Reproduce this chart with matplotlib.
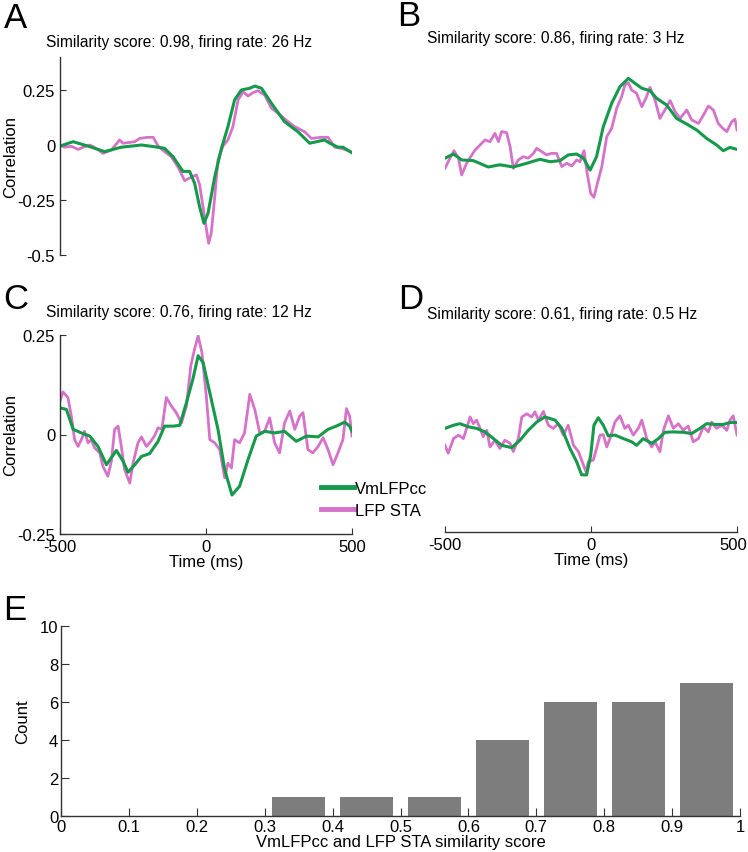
import numpy as np
import matplotlib
matplotlib.use("Agg")
import matplotlib.pyplot as plt
from matplotlib import font_manager
from matplotlib.transforms import ScaledTranslation

# ---- data ----
# panel A
a_vm_t = [-500, -455, -404, -347, -290, -221, -176, -142, -113, -79, -56, -39, -22, -7, 7, 30,
          53, 75, 98, 121, 150, 167, 190, 224, 269, 315, 355, 406, 424, 452, 469, 500]
a_vm = [-0.005, 0.015, -0.005, -0.03, -0.01, 0.0, -0.008, -0.015, -0.053, -0.12, -0.12, -0.174,
        -0.28, -0.356, -0.31, -0.144, -0.015, 0.083, 0.205, 0.25, 0.258, 0.268, 0.258, 0.19,
        0.106, 0.06, 0.008, 0.023, 0.008, -0.01, -0.01, -0.035]
a_sta_t = [-500, -484, -461, -438, -421, -398, -376, -353, -324, -296, -284, -267, -244, -227,
           -199, -181, -164, -142, -119, -96, -73, -56, -33, -22, -5, 9, 18, 30, 41, 58, 75, 92,
           110, 127, 144, 161, 178, 201, 224, 247, 281, 304, 338, 361, 395, 418, 441, 463, 481, 500]
a_sta = [0.0, -0.01, -0.006, -0.02, -0.01, 0.0, -0.015, -0.038, -0.023, 0.023, 0.008, 0.011,
         0.015, 0.03, 0.035, 0.035, -0.005, -0.03, -0.053, -0.1, -0.162, -0.15, -0.136, -0.18,
         -0.326, -0.447, -0.40, -0.235, -0.068, -0.005, 0.023, 0.083, 0.205, 0.242, 0.223, 0.238,
         0.247, 0.227, 0.167, 0.144, 0.106, 0.083, 0.06, 0.03, 0.035, 0.035, -0.01, -0.015,
         -0.023, -0.035]

# panel B
b_vm_t = [-500, -471, -443, -403, -352, -312, -266, -220, -175, -140, -106, -78, -49, -26, -3,
          19, 42, 71, 99, 128, 151, 174, 202, 225, 259, 293, 328, 362, 396, 430, 453, 476, 500]
b_vm = [-0.06, -0.041, -0.068, -0.071, -0.10, -0.09, -0.10, -0.083, -0.065, -0.076, -0.071,
        -0.045, -0.041, -0.06, -0.114, -0.053, 0.083, 0.19, 0.265, 0.303, 0.28, 0.258, 0.247,
        0.212, 0.182, 0.121, 0.095, 0.068, 0.03, 0.0, -0.026, -0.011, -0.02]
b_sta_t = [-500, -483, -469, -454, -443, -426, -412, -397, -380, -363, -346, -329, -317, -306,
           -289, -277, -266, -249, -232, -215, -197, -186, -169, -152, -135, -118, -100, -83,
           -66, -49, -38, -24, -13, -1, 10, 22, 37, 54, 71, 88, 105, 116, 128, 139, 156, 174,
           188, 202, 219, 236, 253, 271, 288, 305, 328, 345, 368, 385, 402, 419, 436, 451, 465,
           482, 493, 500]
b_sta = [-0.106, -0.06, -0.026, -0.06, -0.136, -0.083, -0.053, -0.023, 0.0, 0.023, 0.015, 0.053,
         0.015, 0.061, 0.056, -0.008, -0.106, -0.068, -0.053, -0.06, -0.038, -0.015, -0.03,
         -0.045, -0.038, -0.038, -0.098, -0.083, -0.095, -0.068, -0.076, -0.026, -0.129, -0.22,
         -0.238, -0.174, -0.098, 0.038, 0.076, 0.167, 0.22, 0.273, 0.283, 0.25, 0.235, 0.174,
         0.212, 0.262, 0.205, 0.121, 0.159, 0.202, 0.152, 0.121, 0.159, 0.114, 0.098, 0.136,
         0.177, 0.159, 0.098, 0.076, 0.061, 0.106, 0.117, 0.068]

# panel C
c_vm_t = [-500, -478, -455, -427, -398, -370, -341, -307, -284, -267, -244, -221, -193, -164,
          -142, -113, -90, -67, -45, -27, -10, 13, 41, 64, 89, 115, 144, 172, 201, 235, 269, 309,
          344, 384, 418, 446, 475, 492, 500]
c_vm = [0.067, 0.063, 0.013, 0.004, -0.004, -0.03, -0.076, -0.04, -0.067, -0.095, -0.076, -0.055,
        -0.048, -0.017, 0.021, 0.021, 0.023, 0.08, 0.139, 0.198, 0.181, 0.105, 0.013, -0.088,
        -0.152, -0.13, -0.063, -0.004, 0.008, 0.004, 0.008, -0.017, -0.004, -0.006, 0.013, 0.021,
        0.031, 0.021, 0.008]
c_sta_t = [-500, -490, -473, -461, -450, -438, -427, -416, -404, -393, -381, -364, -353, -336,
           -324, -313, -301, -290, -279, -261, -250, -233, -221, -204, -193, -176, -164, -151,
           -136, -119, -102, -84, -67, -52, -39, -27, -14, 1, 13, 30, 47, 64, 75, 87, 98, 115,
           132, 150, 167, 184, 201, 218, 235, 252, 269, 287, 304, 321, 332, 349, 366, 384, 401,
           418, 435, 452, 469, 481, 492, 500]
c_sta = [0.084, 0.107, 0.093, 0.046, -0.013, -0.03, -0.013, 0.008, -0.021, -0.013, -0.034, -0.046,
         -0.08, -0.105, -0.067, 0.013, 0.021, -0.03, -0.088, -0.122, -0.072, -0.021, -0.006,
         -0.03, -0.021, -0.003, 0.017, 0.013, 0.093, 0.072, 0.055, 0.029, 0.072, 0.173, 0.215,
         0.248, 0.206, 0.097, -0.013, -0.021, -0.038, -0.109, -0.072, -0.084, -0.013, -0.021,
         0.004, 0.101, 0.063, 0.004, 0.008, 0.042, -0.021, -0.046, 0.029, 0.059, 0.013, 0.046,
         0.055, -0.038, -0.046, -0.03, -0.008, -0.038, -0.076, -0.046, -0.013, 0.065, 0.046,
         -0.004]

# panel D
d_vm_t = [-500, -471, -449, -420, -392, -363, -334, -306, -272, -243, -215, -186, -158, -123,
          -100, -72, -49, -32, -15, -1, 10, 25, 42, 59, 82, 111, 139, 156, 179, 208, 231, 253,
          282, 316, 345, 373, 396, 425, 453, 476, 500]
d_vm = [0.013, 0.021, 0.025, 0.017, 0.013, 0.004, -0.013, -0.03, -0.036, -0.017, 0.008, 0.029,
        0.042, 0.034, 0.013, -0.038, -0.072, -0.105, -0.105, -0.055, 0.021, 0.04, 0.021, -0.006,
        -0.004, -0.013, -0.021, -0.03, -0.013, -0.025, -0.013, 0.003, 0.004, 0.003, 0.0, 0.013,
        0.025, 0.023, 0.023, 0.028, 0.028]
d_sta_t = [-500, -489, -471, -454, -437, -426, -414, -403, -392, -380, -369, -357, -346, -329,
           -312, -295, -277, -266, -249, -237, -220, -203, -192, -180, -163, -146, -129, -112,
           -95, -78, -60, -43, -26, -17, -9, 8, 19, 31, 42, 54, 65, 82, 99, 116, 128, 145, 162,
           174, 191, 208, 219, 236, 248, 265, 282, 299, 316, 333, 350, 368, 385, 402, 413, 430,
           448, 465, 476, 487, 500]
d_sta = [-0.03, -0.05, -0.013, -0.004, -0.013, 0.013, 0.042, 0.025, 0.034, 0.013, -0.008, 0.008,
         -0.034, -0.017, -0.038, -0.017, -0.025, -0.046, -0.013, 0.042, 0.05, 0.042, 0.055,
         0.034, 0.056, 0.021, 0.013, 0.025, -0.004, 0.021, -0.03, -0.046, -0.08, -0.097, -0.072,
         -0.067, -0.038, -0.004, -0.003, -0.034, -0.013, 0.029, 0.045, 0.013, 0.021, -0.004,
         0.013, 0.034, -0.013, -0.034, -0.021, -0.046, 0.008, 0.045, 0.013, 0.025, 0.008, 0.019,
         -0.021, -0.013, 0.017, 0.004, 0.029, 0.013, 0.021, 0.008, 0.034, 0.045, -0.004]

titles = ["Similarity score: 0.98, firing rate: 26 Hz",
          "Similarity score: 0.86, firing rate: 3 Hz",
          "Similarity score: 0.76, firing rate: 12 Hz",
          "Similarity score: 0.61, firing rate: 0.5 Hz"]

# panel E histogram
bin_centers = [0.05, 0.15, 0.25, 0.35, 0.45, 0.55, 0.65, 0.75, 0.85, 0.95]
counts = [0, 0, 0, 1, 1, 1, 4, 6, 6, 7]

# ---- style ----
names = {f.name for f in font_manager.fontManager.ttflist}
main_font = "Liberation Sans" if "Liberation Sans" in names else "DejaVu Sans"
narrow_font = "Liberation Sans Narrow" if "Liberation Sans Narrow" in names else main_font
plt.rcParams["font.family"] = [main_font, "DejaVu Sans"]
plt.rcParams["axes.unicode_minus"] = False

GREEN = "#15994a"
PINK = "#d672c9"
AXC = "#333333"

W, H = 748, 853
fig = plt.figure(figsize=(W / 100, H / 100), dpi=100)


def box(x0, y0, x1, y1):
    # pixel box -> figure fraction
    return [x0 / W, 1 - y1 / H, (x1 - x0) / W, (y1 - y0) / H]


def style_axes(ax):
    for s in ax.spines.values():
        s.set_color(AXC)
        s.set_linewidth(1.0)
    ax.tick_params(direction="in", length=4, colors=AXC, labelcolor="black", labelsize=12)
    ax.spines["top"].set_visible(False)
    ax.spines["right"].set_visible(False)


axA = fig.add_axes(box(60, 58, 352, 256))
axB = fig.add_axes(box(445, 58, 737, 256))
axC = fig.add_axes(box(60, 336, 352, 535))
axD = fig.add_axes(box(445, 336, 737, 533))
axE = fig.add_axes(box(61, 627, 740, 817))

panels = [(axA, a_vm_t, a_vm, a_sta_t, a_sta),
          (axB, b_vm_t, b_vm, b_sta_t, b_sta),
          (axC, c_vm_t, c_vm, c_sta_t, c_sta),
          (axD, d_vm_t, d_vm, d_sta_t, d_sta)]

for ax, tv, v, ts, s in panels:
    style_axes(ax)
    ax.plot(ts, s, color=PINK, lw=2.0, solid_joinstyle="round")
    ax.plot(tv, v, color=GREEN, lw=2.2, solid_joinstyle="round")
    ax.set_xlim(-500, 500)

for ax in (axA, axB):
    ax.set_ylim(-0.5, 0.4)
for ax in (axC, axD):
    ax.set_ylim(-0.25, 0.25)

# A: only y axis
axA.spines["bottom"].set_visible(False)
axA.set_xticks([])
axA.set_yticks([-0.5, -0.25, 0, 0.25])
axA.set_yticklabels(["-0.5", "-0.25", "0", "0.25"])
axA.set_ylabel("Correlation", fontsize=12)
axA.yaxis.set_label_coords(-0.145, 0.5)

# B: no axes
axB.axis("off")

# C: both axes
axC.set_yticks([-0.25, 0, 0.25])
axC.set_yticklabels(["-0.25", "0", "0.25"])
axC.set_xticks([-500, 0, 500])
axC.set_xticklabels(["-500", "0", "500"])
axC.set_xlabel("Time (ms)", fontsize=12, labelpad=0)
axC.set_ylabel("Correlation", fontsize=12)
axC.yaxis.set_label_coords(-0.145, 0.5)

# D: only x axis
axD.spines["left"].set_visible(False)
axD.set_yticks([])
axD.set_xticks([-500, 0, 500])
axD.set_xticklabels(["-500", "0", "500"])
axD.set_xlabel("Time (ms)", fontsize=12, labelpad=0)
last = axD.get_xticklabels()[-1]
last.set_horizontalalignment("right")
last.set_transform(last.get_transform() + ScaledTranslation(10 / 100, 0, fig.dpi_scale_trans))

# titles and panel letters
for (x, y), t in zip([(46, 42), (427, 38), (46, 313), (427, 315)], titles):
    fig.text(x / W, 1 - y / H, t, fontsize=11.2, ha="left", va="center")
for (x, y), lab in zip([(4, 18), (397, 17), (3, 300), (398, 300), (3, 611)], "ABCDE"):
    fig.text(x / W, 1 - y / H, lab, fontsize=25, ha="left", va="center")

# legend between C and D
leg = fig.legend([axC.lines[1], axC.lines[0]], ["VmLFPcc", "LFP STA"],
                 loc="upper left", bbox_to_anchor=(321 / W, 1 - 482 / H), frameon=False,
                 fontsize=12, handlelength=1.95, handletextpad=0.1, borderpad=0,
                 labelspacing=0.4, borderaxespad=0)
for lh in leg.get_lines():
    lh.set_linewidth(3.5)

# E: histogram
style_axes(axE)
axE.bar(bin_centers, counts, width=0.078, color="#7d7d7d", edgecolor="none")
axE.set_xlim(0, 1)
axE.set_ylim(0, 10)
axE.set_xticks(np.arange(0, 1.01, 0.1))
axE.set_xticklabels(["0", "0.1", "0.2", "0.3", "0.4", "0.5", "0.6", "0.7", "0.8", "0.9", "1"],
                    fontfamily=narrow_font)
axE.set_yticks([0, 2, 4, 6, 8, 10])
axE.set_yticklabels(["0", "2", "4", "6", "8", "10"], fontfamily=narrow_font)
axE.tick_params(length=6, pad=2)
axE.set_xlabel("VmLFPcc and LFP STA similarity score", fontsize=12, labelpad=0)
axE.set_ylabel("Count", fontsize=12)
axE.yaxis.set_label_coords(-0.045, 0.5)

fig.savefig("out.png", dpi=100)
